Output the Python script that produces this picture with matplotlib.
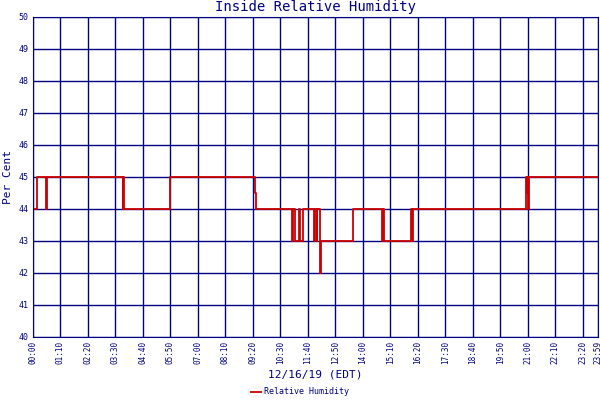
import matplotlib
matplotlib.use("Agg")
import matplotlib.pyplot as plt

# step change times (minutes after midnight) and values
times = [0, 10, 33, 35, 228, 230, 232, 349, 566, 568, 660, 663, 666, 677, 680, 688,
         716, 718, 722, 724, 731, 733, 815, 817, 889, 891, 893, 963, 965, 967,
         1255, 1257, 1259, 1261, 1263, 1439]
values = [44, 45, 44, 45, 44, 45, 44, 45, 44.5, 44, 43, 44, 43, 44, 43, 44,
          43, 44, 43, 44, 42, 43, 44, 44, 43, 44, 43, 44, 43, 44,
          45, 44.5, 45, 44, 45, 45]
tick_minutes = list(range(0, 1440, 70)) + [1439]
tick_labels = ["%02d:%02d" % (m // 60, m % 60) for m in tick_minutes]
y_ticks = list(range(40, 51))

navy = "#000080"
plt.rcParams["font.family"] = "DejaVu Sans Mono"
fig = plt.figure(figsize=(6, 4), dpi=100)
ax = fig.add_axes([0.055, 0.1575, 0.942, 0.8])
ax.step(times, values, where="post", color="#cc0000", lw=1.3, label="Relative Humidity", zorder=2)
ax.set_xlim(0, 1439)
ax.set_ylim(40, 50)
ax.set_xticks(tick_minutes)
ax.set_xticklabels(tick_labels, rotation=90, fontsize=5.5, color=navy)
ax.set_yticks(y_ticks)
ax.set_yticklabels([str(v) for v in y_ticks], fontsize=6, color=navy)
ax.grid(True, color=navy, lw=1, zorder=1)
ax.set_axisbelow(True)
for s in ax.spines.values():
    s.set_color(navy)
ax.tick_params(length=0, pad=3)
ax.set_title("Inside Relative Humidity", color=navy, fontsize=10, pad=4)
ax.set_ylabel("Per Cent", color=navy, fontsize=8, labelpad=4)
ax.set_xlabel("12/16/19 (EDT)", color=navy, fontsize=8, labelpad=4)
leg = fig.legend(loc="lower center", bbox_to_anchor=(0.5, -0.01), frameon=False,
                 fontsize=6, handlelength=1.2, handletextpad=0.3)
for t in leg.get_texts():
    t.set_color(navy)
fig.savefig("out.png", dpi=100)
